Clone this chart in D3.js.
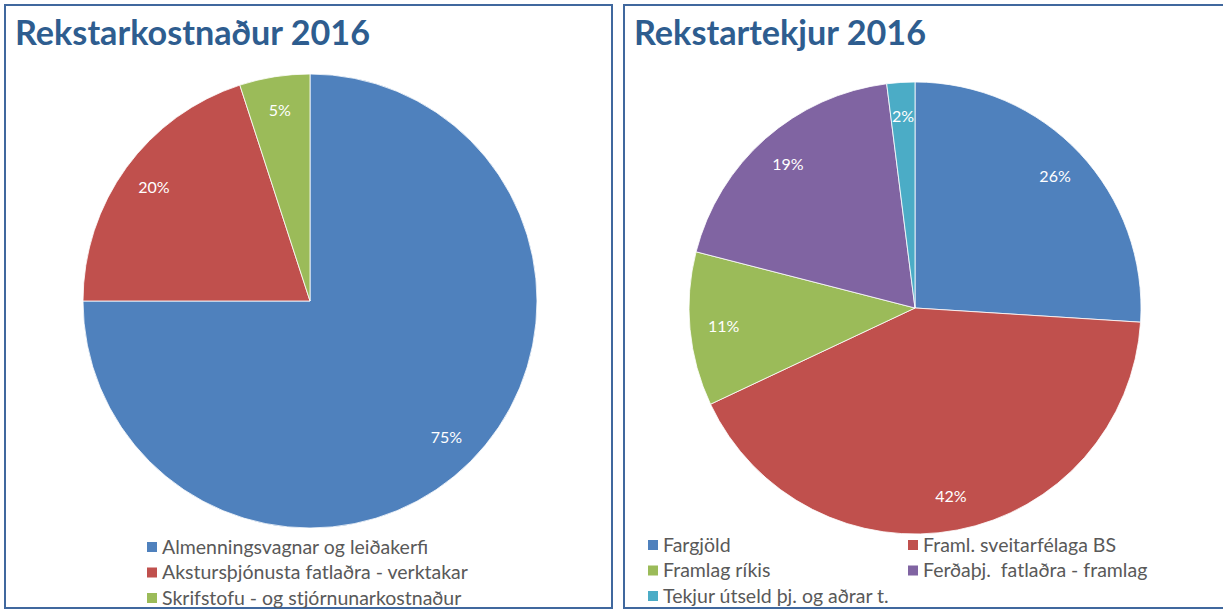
<!DOCTYPE html>
<html>
<head>
<meta charset="utf-8">
<script src="https://cdn.jsdelivr.net/npm/d3@7"></script>
<style>
  body { margin: 0; background: #fff; }
  svg { display: block; }
  text { font-family: Lato, "Open Sans", sans-serif; white-space: pre; }
</style>
</head>
<body>
<div id="chart"></div>
<script>
// data
const costTitle = 'Rekstarkostnaður 2016';
const costLabels = ['Almenningsvagnar og leiðakerfi', 'Akstursþjónusta fatlaðra - verktakar', 'Skrifstofu - og stjórnunarkostnaður'];
const costValues = [75, 20, 5];
const costColors = ['#4F81BD', '#C0504D', '#9BBB59'];

const incomeTitle = 'Rekstartekjur 2016';
const incomeLabels = ['Fargjöld', 'Framl. sveitarfélaga BS', 'Framlag ríkis', 'Ferðaþj.  fatlaðra - framlag', 'Tekjur útseld þj. og aðrar t.'];
const incomeValues = [26, 42, 11, 19, 2];
const incomeColors = ['#4F81BD', '#C0504D', '#9BBB59', '#8064A2', '#4BACC6'];

const W = 1223, H = 613;
const svg = d3.select('#chart').append('svg')
  .attr('width', W)
  .attr('height', H);

const titleColor = '#2E5D8F';
const frameColor = '#40689E';

function drawPanel(opt) {
  const g = svg.append('g');

  g.append('rect')
    .attr('x', opt.x).attr('y', 5)
    .attr('width', opt.w).attr('height', 603)
    .attr('fill', '#fff')
    .attr('stroke', frameColor)
    .attr('stroke-width', 2);

  g.append('text')
    .attr('x', opt.x + 10).attr('y', 45)
    .attr('fill', titleColor)
    .attr('font-weight', 700)
    .attr('font-size', 34)
    .attr('textLength', opt.titleLen)
    .attr('lengthAdjust', 'spacingAndGlyphs')
    .text(opt.title);

  const pie = d3.pie().sort(null).value(d => d);
  const arcs = pie(opt.values);
  const arc = d3.arc().innerRadius(0).outerRadius(opt.r);
  const labelArc = d3.arc().innerRadius(opt.r * 0.85).outerRadius(opt.r * 0.85);

  const pg = g.append('g').attr('transform', `translate(${opt.cx},${opt.cy})`);
  pg.selectAll('path')
    .data(arcs)
    .enter()
    .append('path')
    .attr('d', arc)
    .attr('fill', (d, i) => opt.colors[i])
    .attr('stroke', '#fff')
    .attr('stroke-width', 0.8);

  pg.selectAll('text')
    .data(arcs)
    .enter()
    .append('text')
    .attr('transform', d => `translate(${labelArc.centroid(d)})`)
    .attr('text-anchor', 'middle')
    .attr('dy', '0.35em')
    .attr('fill', '#fff')
    .attr('font-size', 16)
    .text(d => d.data + '%');

  const lg = g.append('g');
  opt.labels.forEach((lab, i) => {
    const col = i % opt.cols, row = Math.floor(i / opt.cols);
    const x = opt.lx + col * opt.colW, y = opt.ly + row * opt.rowH;
    lg.append('rect')
      .attr('x', x).attr('y', y - 5)
      .attr('width', 10).attr('height', 10)
      .attr('fill', opt.colors[i]);
    lg.append('text')
      .attr('x', x + 15).attr('y', y)
      .attr('dy', '0.35em')
      .attr('fill', '#595959')
      .attr('font-size', 19.5)
      .text(lab);
  });
}

drawPanel({
  x: 5, w: 607, title: costTitle, titleLen: 355,
  values: costValues, colors: costColors, labels: costLabels,
  cx: 310, cy: 301, r: 227,
  lx: 147, ly: 547, cols: 1, colW: 0, rowH: 25.5
});

drawPanel({
  x: 624, w: 640, title: incomeTitle, titleLen: 292,
  values: incomeValues, colors: incomeColors, labels: incomeLabels,
  cx: 915, cy: 308, r: 226,
  lx: 648, ly: 545, cols: 2, colW: 260, rowH: 25.5
});
</script>
</body>
</html>
